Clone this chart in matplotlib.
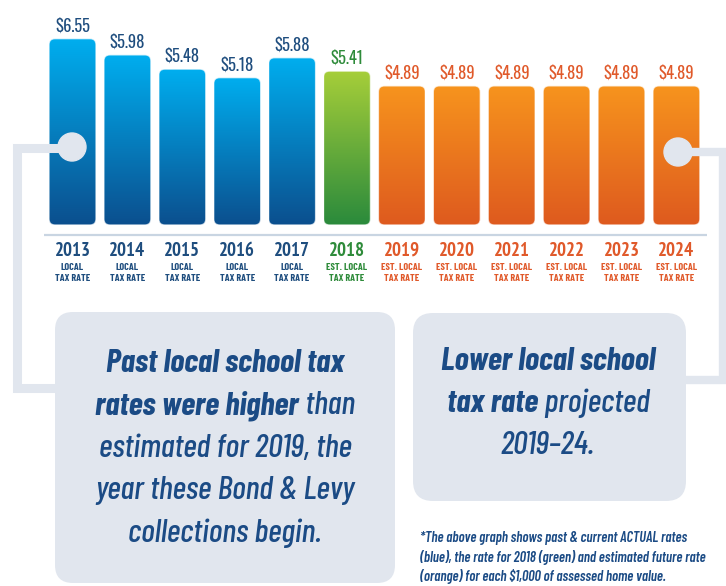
import numpy as np
import matplotlib
matplotlib.use("Agg")
import matplotlib.pyplot as plt
from matplotlib import font_manager
from matplotlib.patches import FancyBboxPatch, Circle
from matplotlib.colors import LinearSegmentedColormap

# ---------------- data ----------------
years = ["2013", "2014", "2015", "2016", "2017", "2018",
         "2019", "2020", "2021", "2022", "2023", "2024"]
rates = [6.55, 5.98, 5.48, 5.18, 5.88, 5.41, 4.89, 4.89, 4.89, 4.89, 4.89, 4.89]
kinds = ["actual"] * 5 + ["est2018"] + ["future"] * 6
sub_labels = {"actual": "LOCAL\nTAX RATE",
              "est2018": "EST. LOCAL\nTAX RATE",
              "future": "EST. LOCAL\nTAX RATE"}
left_box_lines = [
    [("Past local school tax", "bold")],
    [("rates were higher", "bold"), (" than", "normal")],
    [("estimated for 2019, the", "normal")],
    [("year these Bond & Levy", "normal")],
    [("collections begin.", "normal")],
]
right_box_lines = [
    [("Lower local school", "bold")],
    [("tax rate", "bold"), (" projected", "normal")],
    [("2019\u201324.", "normal")],
]
footnote_lines = [
    "*The above graph shows past & current ACTUAL rates",
    "(blue), the rate for 2018 (green) and estimated future rate",
    "(orange) for each $1,000 of assessed home value.",
]

# ---------------- styles ----------------
names = {f.name for f in font_manager.fontManager.ttflist}


def pick(*cands):
    for c in cands:
        if c in names:
            return [c, "DejaVu Sans"]
    return ["DejaVu Sans"]


F_BOX = pick("Barlow Condensed", "Fira Sans Condensed", "Liberation Sans")
F_VAL = pick("Oswald", "Pathway Gothic One", "Barlow Condensed")
F_YEAR = pick("PT Sans Narrow", "Fira Sans Condensed", "Barlow Condensed")
F_SUB = pick("Barlow Condensed", "PT Sans Narrow")
F_NOTE = pick("Barlow Condensed", "Fira Sans Condensed")
W_BOLD, W_REG = 700, 500

grad_colors = {"actual": ("#0B4F8E", "#00AEEF"),
               "est2018": ("#2A8A3C", "#A6CE39"),
               "future": ("#DE5A1F", "#F7941D")}
label_colors = {"actual": "#1E4D7E", "est2018": "#2E8B3A", "future": "#E0592A"}
NAVY = "#1B4B85"
GREY = "#E1E6EE"

W, H = 726, 586
fig = plt.figure(figsize=(W / 100, H / 100), dpi=100)
fig.patch.set_facecolor("white")
renderer = fig.canvas.get_renderer()


def fit_size(s, family, weight, target, style="normal", base=20.0):
    t = fig.text(0, 0, s, fontsize=base, family=family, fontweight=weight, style=style)
    w = t.get_window_extent(renderer).width
    t.remove()
    return base * target / w


# bar axes: value 0 at pixel y=225, 28.45 px per unit; bar i centred at 72.5 + 54.9*i px
px_per_val = 28.45
x0_px, dx_px = 72.5, 54.9
base_px = 225
axb = fig.add_axes([0, (H - base_px) / H, 1, base_px / H])
axb.axis("off")

s_val = fit_size("$6.55", F_VAL, "normal", 35)
s_year = fit_size("2013", F_YEAR, "bold", 36)
s_sub = fit_size("TAX RATE", F_SUB, 700, 35)

bw = 47 / dx_px
r = 6 / dx_px
aspect = dx_px / px_per_val
grad = np.linspace(0, 1, 256).reshape(-1, 1)
for i, (v, k) in enumerate(zip(rates, kinds)):
    patch = FancyBboxPatch((i - bw / 2, 0), bw, v,
                           boxstyle=f"round,pad=0,rounding_size={r}",
                           mutation_aspect=aspect, facecolor="none",
                           edgecolor="none")
    axb.add_patch(patch)
    cmap = LinearSegmentedColormap.from_list(k, list(grad_colors[k]))
    im = axb.imshow(grad, extent=(i - bw / 2, i + bw / 2, 0, v), origin="lower",
                    cmap=cmap, aspect="auto", interpolation="bilinear")
    im.set_clip_path(patch)
    axb.add_patch(FancyBboxPatch((i - bw / 2, 0), bw, v,
                                 boxstyle=f"round,pad=0,rounding_size={r}",
                                 mutation_aspect=aspect, facecolor="none",
                                 edgecolor="white", linewidth=1.0, alpha=0.7))
    axb.text(i, v + 4 / px_per_val, f"${v:.2f}", ha="center", va="bottom",
             fontsize=s_val, family=F_VAL, color=label_colors[k])
    axb.text(i, -26 / px_per_val, years[i], ha="center", va="center",
             fontsize=s_year, fontweight="bold", family=F_YEAR,
             color=label_colors[k], clip_on=False)
    axb.text(i, -38 / px_per_val, sub_labels[k], ha="center", va="top",
             fontsize=s_sub, fontweight=700, family=F_SUB,
             color=label_colors[k], linespacing=1.3, clip_on=False)
axb.set_xlim(-x0_px / dx_px, (W - x0_px) / dx_px)
axb.set_ylim(0, base_px / px_per_val)

# overlay axes in pixel coordinates
ax = fig.add_axes([0, 0, 1, 1], zorder=3)
ax.set_xlim(0, W)
ax.set_ylim(H, 0)
ax.axis("off")
ax.patch.set_alpha(0)

# baseline
ax.plot([44, 707], [235, 235], color="#C9D5E2", lw=1.6, solid_capstyle="butt")

# connectors
ax.plot([72, 17, 17, 60], [148, 148, 388, 388], color=GREY, lw=6.5,
        solid_joinstyle="miter", solid_capstyle="butt")
ax.add_patch(Circle((72, 147), 14, color=GREY))
ax.plot([678, 723, 723, 680], [152, 152, 380, 380], color=GREY, lw=6,
        solid_joinstyle="miter", solid_capstyle="butt")
ax.add_patch(Circle((678, 152), 14, color=GREY))

# boxes
ax.add_patch(FancyBboxPatch((55, 312), 340, 271,
                            boxstyle="round,pad=0,rounding_size=18",
                            facecolor=GREY, edgecolor="none"))
ax.add_patch(FancyBboxPatch((413, 313), 273, 188,
                            boxstyle="round,pad=0,rounding_size=20",
                            facecolor=GREY, edgecolor="none"))


def rich_line(xc, y, parts, size):
    texts, widths = [], []
    for s, w in parts:
        t = ax.text(0, y, s, fontsize=size,
                    fontweight=W_BOLD if w == "bold" else W_REG, style="italic",
                    family=F_BOX, color=NAVY, ha="left", va="center")
        widths.append(t.get_window_extent(renderer).width)
        texts.append(t)
    x = xc - sum(widths) / 2
    for t, w in zip(texts, widths):
        t.set_x(x)
        x += w


s_box = fit_size("Past local school tax", F_BOX, W_BOLD, 238, style="italic")
for j, parts in enumerate(left_box_lines):
    rich_line(225, 363 + j * 42.5, parts, s_box)
for j, parts in enumerate(right_box_lines):
    rich_line(548, 362 + j * 41.5, parts, s_box)

s_note = fit_size(footnote_lines[1], F_NOTE, 600, 286, style="italic")
for j, s in enumerate(footnote_lines):
    ax.text(420, 538 + j * 19.5, s, fontsize=s_note, fontweight=600,
            style="italic", family=F_NOTE, color=NAVY, ha="left", va="center")

fig.savefig("out.png", dpi=100)
